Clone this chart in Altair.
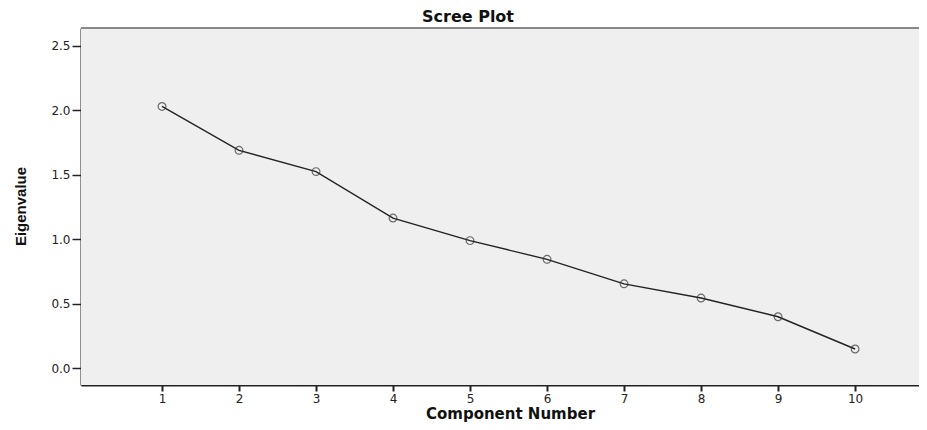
import altair as alt
import pandas as pd

components = [1, 2, 3, 4, 5, 6, 7, 8, 9, 10]
eigenvalues = [2.03, 1.69, 1.525, 1.165, 0.99, 0.845, 0.655, 0.545, 0.40, 0.15]
y_ticks = [0.0, 0.5, 1.0, 1.5, 2.0, 2.5]

df = pd.DataFrame({"Component Number": components, "Eigenvalue": eigenvalues})

W, H = 838, 357
xs = alt.Scale(domain=[-0.052, 10.83], nice=False, zero=False)
ys = alt.Scale(domain=[-0.129, 2.638], nice=False, zero=False)

x_axis = alt.Axis(values=components, format="d", grid=False, domainColor="#222", domainWidth=2,
                  tickColor="#222", tickSize=6, tickWidth=2, labelFont="DejaVu Sans", labelFontSize=12,
                  labelColor="#222", labelPadding=2,
                  title="Component Number", titleFont="DejaVu Sans", titleFontSize=15, titleFontWeight="bold",
                  titleColor="#111", titleX=429, titleY=28, titleBaseline="middle", titleAlign="center")
y_axis = alt.Axis(values=y_ticks, format=".1f", grid=False, domainColor="#222", domainWidth=2,
                  tickColor="#222", tickSize=9, tickWidth=1.5, labelFont="DejaVu Sans", labelFontSize=12,
                  labelColor="#222", labelPadding=2,
                  title="Eigenvalue", titleFont="Liberation Sans Narrow, Liberation Sans", titleFontSize=15,
                  titleFontWeight="bold", titleColor="#111", titleX=-61, titleY=178, titleAngle=-90,
                  titleAlign="center", titleBaseline="middle")

bg = alt.Chart(pd.DataFrame({"a": [0]})).mark_rect(color="#efefef").encode(
    x=alt.value(0), x2=alt.value(W), y=alt.value(0), y2=alt.value(H)
)
base = alt.Chart(df)
line = base.mark_line(color="#222", strokeWidth=1.4).encode(
    x=alt.X("Component Number:Q", scale=xs, axis=x_axis),
    y=alt.Y("Eigenvalue:Q", scale=ys, axis=y_axis),
)
pts = base.mark_point(shape="circle", filled=False, size=60, color="#333", strokeWidth=1.2).encode(
    x=alt.X("Component Number:Q", scale=xs),
    y=alt.Y("Eigenvalue:Q", scale=ys),
)
top = alt.Chart(pd.DataFrame({"a": [0]})).mark_rule(color="#888", strokeWidth=2).encode(
    x=alt.value(0), x2=alt.value(W), y=alt.value(0)
)

chart = alt.layer(bg, line, pts, top).properties(
    width=W, height=H,
    title=alt.TitleParams("Scree Plot", font="DejaVu Sans", fontSize=16, fontWeight="bold", color="#111",
                          anchor="middle", frame="group", dx=-32, offset=2),
    autosize=alt.AutoSizeParams(type="none"),
    padding={"left": 73, "top": 20, "right": 0, "bottom": 37},
).configure_view(stroke=None).configure(background="white")

chart.save("out.html", embed_options={"renderer": "svg", "actions": False})
